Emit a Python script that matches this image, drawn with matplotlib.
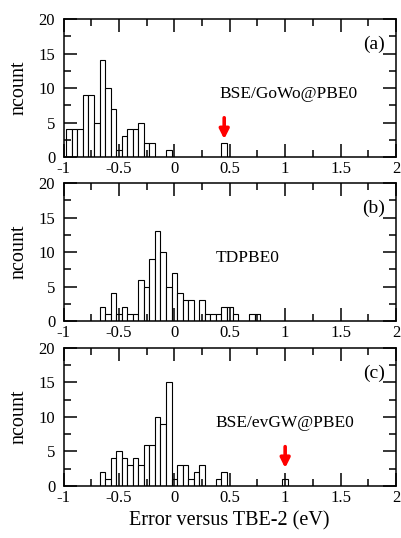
import matplotlib
matplotlib.use("Agg")
import matplotlib.pyplot as plt
from matplotlib.ticker import MultipleLocator

plt.rcParams['font.family'] = ['Liberation Serif', 'DejaVu Serif']
plt.rcParams['axes.unicode_minus'] = False

# histogram bins (centers, eV) and counts, bin width 0.05
centers_a = [-0.95, -0.90, -0.85, -0.80, -0.75, -0.70, -0.65, -0.60, -0.55, -0.50,
             -0.45, -0.40, -0.35, -0.30, -0.25, -0.20, -0.05, 0.45]
counts_a = [4, 4, 4, 9, 9, 5, 14, 10, 7, 1,
            3, 4, 4, 5, 2, 2, 1, 2]

centers_b = [-0.65, -0.60, -0.55, -0.50, -0.45, -0.40, -0.35, -0.30, -0.25, -0.20,
             -0.15, -0.10, -0.05, 0.00, 0.05, 0.10, 0.15, 0.25, 0.30, 0.35,
             0.40, 0.45, 0.50, 0.55, 0.70, 0.75]
counts_b = [2, 1, 4, 1, 2, 1, 1, 6, 5, 9,
            13, 10, 5, 7, 4, 3, 3, 3, 1, 1,
            1, 2, 2, 1, 1, 1]

centers_c = [-0.65, -0.60, -0.55, -0.50, -0.45, -0.40, -0.35, -0.30, -0.25, -0.20,
             -0.15, -0.10, -0.05, 0.00, 0.05, 0.10, 0.15, 0.20, 0.25, 0.40,
             0.45, 1.00]
counts_c = [2, 1, 4, 5, 4, 3, 4, 3, 6, 6,
            10, 9, 15, 1, 3, 3, 1, 2, 3, 1,
            2, 1]

panels = [
    (centers_a, counts_a, '(a)', 'BSE/GoWo@PBE0', 1.03, 0.45),
    (centers_b, counts_b, '(b)', 'TDPBE0', 0.66, None),
    (centers_c, counts_c, '(c)', 'BSE/evGW@PBE0', 1.0, 1.0),
]
bottoms = [0.708, 0.4033, 0.0967]

fig = plt.figure(figsize=(4.02, 5.38), dpi=100)

for (centers, counts, tag, name, name_x, arrow_x), b in zip(panels, bottoms):
    ax = fig.add_axes([0.158, b, 0.827, 0.2565])
    ax.bar(centers, counts, width=0.05, facecolor='white', edgecolor='black',
           linewidth=0.8, align='center')
    ax.set_xlim(-1, 2)
    ax.set_ylim(0, 20)
    ax.xaxis.set_major_locator(MultipleLocator(0.5))
    ax.xaxis.set_minor_locator(MultipleLocator(0.25))
    ax.yaxis.set_major_locator(MultipleLocator(5))
    ax.yaxis.set_minor_locator(MultipleLocator(2.5))
    ax.set_xticks([-1, -0.5, 0, 0.5, 1, 1.5, 2])
    ax.set_xticklabels(['-1', '-0.5', '0', '0.5', '1', '1.5', '2'])
    ax.tick_params(which='both', direction='in', top=True, right=True,
                   labelsize=12, width=1.1)
    ax.tick_params(which='major', length=9.5)
    ax.tick_params(which='minor', length=4.8)
    ax.tick_params(axis='x', pad=3)
    ax.tick_params(axis='y', pad=6)
    for sp in ax.spines.values():
        sp.set_linewidth(1.1)
    ax.set_ylabel('ncount', fontsize=14.5, labelpad=7)
    ax.text(1.9, 16.3, tag, fontsize=14, ha='right', va='center')
    ax.text(name_x, 9.1, name, fontsize=12.5, ha='center', va='center')
    if arrow_x is not None:
        ax.annotate('', xy=(arrow_x, 2.6), xytext=(arrow_x, 5.7),
                    arrowprops=dict(arrowstyle='-|>', color='red', lw=2.6,
                                    mutation_scale=14, shrinkA=0, shrinkB=0))

ax.set_xlabel('Error versus TBE-2 (eV)', fontsize=14.5, labelpad=4)

fig.savefig('out.png', dpi=100)
